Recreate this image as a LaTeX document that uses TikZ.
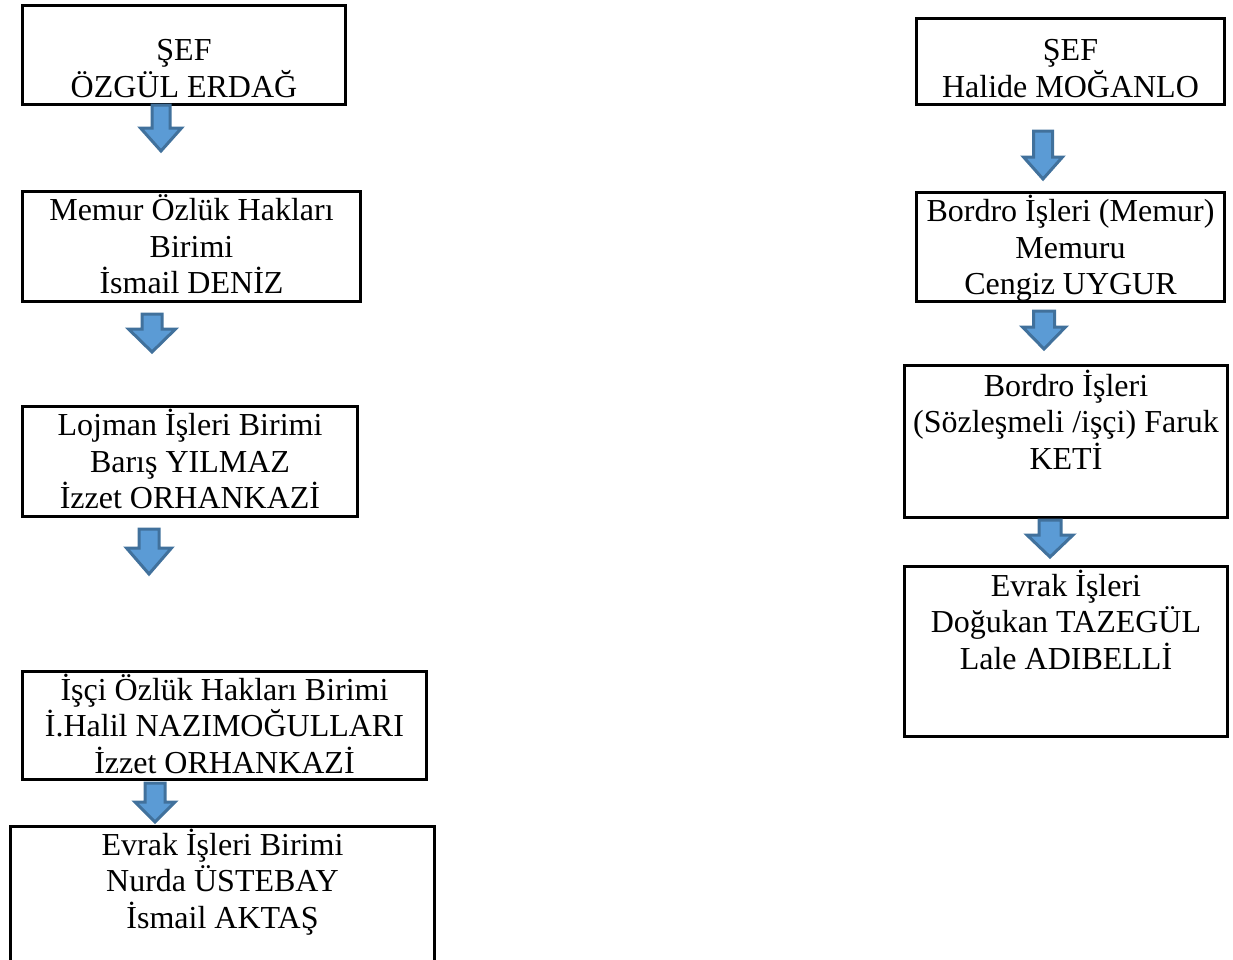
\documentclass[tikz,border=0pt]{standalone}
\usepackage{fontspec}
\setmainfont{Liberation Serif}
\definecolor{okkenar}{HTML}{41719C}
\definecolor{okdolgu}{HTML}{5B9BD5}
% kutu yazisi: genislik, yukseklik, ilk satir payi, satirlar
\newcommand{\kutuyazi}[4]{\parbox[t][#2pt][t]{#1pt}{\centering\rule{0pt}{#3pt}#4}}
% mavi blok ok: tepe, govde yari, bas yari, govde boyu, bas boyu
\newcommand{\maviok}[5]{%
  \draw[blokok] (#1) ++(-#2,0) -- ++(2*#2,0) -- ++(0,#4) -- ++(#3-#2,0)
    -- ++(-#3,#5) -- ++(-#3,-#5) -- ++(#3-#2,0) -- cycle;}
\tikzset{
  kutu/.style={draw, line width=2.8pt, inner sep=0pt, outer sep=0pt, anchor=north west},
  blokok/.style={draw=okkenar, fill=okdolgu, line width=3pt, line join=miter}
}

\begin{document}
\begin{tikzpicture}[x=1pt, y=-1pt, font=\fontsize{32}{36.6}\selectfont]
  \useasboundingbox (0,0) rectangle (1233,959);
  % sol sutun
  \node[kutu] (sefsol) at (22.25,5.25) {\kutuyazi{323.5}{99.5}{55.5}{ŞEF\\ÖZGÜL ERDAĞ}};
  \node[kutu] (memur) at (22.25,191.25) {\kutuyazi{338.5}{110.5}{29.5}{Memur Özlük Hakları\\Birimi\\İsmail DENİZ}};
  \node[kutu] (lojman) at (22.25,406.25) {\kutuyazi{335.5}{110.5}{29.5}{Lojman İşleri Birimi\\Barış YILMAZ\\İzzet ORHANKAZİ}};
  \node[kutu] (isci) at (22.25,671.25) {\kutuyazi{404.5}{108.5}{29}{İşçi Özlük Hakları Birimi\\İ.Halil NAZIMOĞULLARI\\İzzet ORHANKAZİ}};
  \node[kutu] (evraksol) at (10.25,826.25) {\kutuyazi{424.5}{150}{29}{Evrak İşleri Birimi\\Nurda ÜSTEBAY\\İsmail AKTAŞ}};
  \coordinate (ok1) at (161,105);
  \coordinate (ok2) at (152,314);
  \coordinate (ok3) at (149,529);
  \coordinate (ok4) at (155,783);
  \maviok{ok1}{9}{20.5}{23}{23}
  \maviok{ok2}{10}{23.5}{15}{23}
  \maviok{ok3}{10}{22.5}{19}{26}
  \maviok{ok4}{10}{20}{19}{20}
  % sag sutun
  \node[kutu] (sefsag) at (916.25,18.25) {\kutuyazi{308.5}{86.5}{42.5}{ŞEF\\Halide MOĞANLO}};
  \node[kutu] (bordro) at (916.25,192.25) {\kutuyazi{308.5}{109.5}{29.5}{Bordro İşleri (Memur)\\Memuru\\Cengiz UYGUR}};
  \node[kutu] (sozlesmeli) at (904.25,365.25) {\kutuyazi{323.5}{152.5}{31}{Bordro İşleri\\(Sözleşmeli /işçi) Faruk\\KETİ}};
  \node[kutu] (evraksag) at (904.25,566.25) {\kutuyazi{323.5}{170.5}{30}{Evrak İşleri\\Doğukan TAZEGÜL\\Lale ADIBELLİ}};
  \coordinate (sg1) at (1043,131);
  \coordinate (sg2) at (1044,311);
  \coordinate (sg3) at (1050,520);
  \maviok{sg1}{9.5}{19.5}{26}{22}
  \maviok{sg2}{10.5}{21.5}{16}{22}
  \maviok{sg3}{11}{23}{15}{22}
\end{tikzpicture}
\end{document}
